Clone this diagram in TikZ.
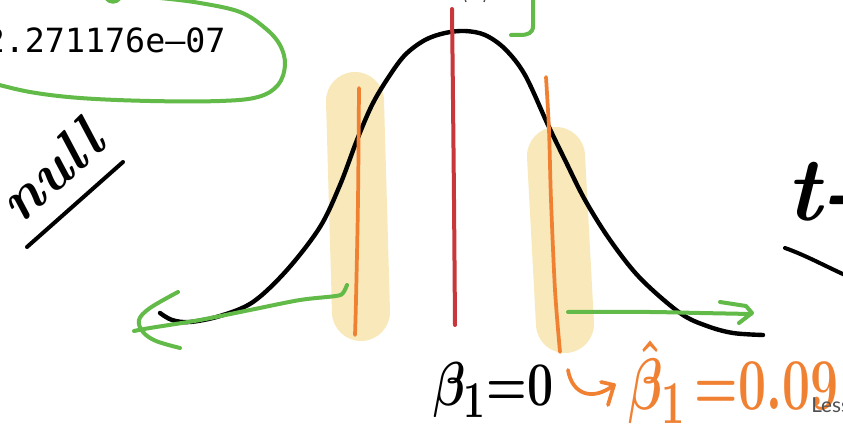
\documentclass[tikz,border=0pt]{standalone}
\usepackage{fontspec}
\usepackage{graphicx}
\newfontfamily\monof{DejaVu Sans Mono}
\newfontfamily\latof{Lato}
\definecolor{pengreen}{RGB}{98,186,72}
\definecolor{penorange}{RGB}{240,128,50}
\definecolor{penred}{RGB}{200,56,58}
\definecolor{hilite}{RGB}{248,232,186}
\definecolor{uigray}{RGB}{80,80,80}
\begin{document}
\begin{tikzpicture}[x=0.75pt,y=-0.75pt,
  ink/.style={line width=3.3pt,line cap=round,line join=round,black},
  greenink/.style={line width=3pt,line cap=round,line join=round,pengreen},
  orangeink/.style={line width=2.8pt,line cap=round,line join=round,penorange},
  redink/.style={line width=3pt,line cap=round,penred},
  marker/.style={line width=43.5pt,line cap=round,hilite},
  hand/.style={inner sep=0pt,font=\bfseries\itshape}]
\clip (0,0) rectangle (843,427);
\fill[white] (0,0) rectangle (843,427);

% highlighter bars
\draw[marker] (355,101) -- (361,312);
\draw[marker] (556,156) -- (565,324);

% bell curve
\draw[ink] plot[smooth,tension=0.55] coordinates {(160,313) (172,320) (190,322) (220,316) (253,302) (287,270) (320,227) (340,185) (357,140) (372,105) (388,78) (405,55) (425,40) (445,33) (465,31) (485,35) (505,49) (525,75) (548,125) (565,160) (585,200) (610,240) (640,278) (680,313) (707,326) (733,333) (763,335)};

% red centre line
\draw[redink] plot[smooth] coordinates {(452,9) (453,100) (454,200) (455,325)};

% orange critical lines
\draw[orangeink] plot[smooth] coordinates {(359,88) (358,200) (356,300) (355,335)};
\draw[orangeink] plot[smooth] coordinates {(546,77) (549,130) (551,200) (555,290) (560,352)};

% green loop round p-value
\draw[greenink] plot[smooth,tension=0.6] coordinates {(-8,83) (30,92) (80,98) (150,101) (220,101) (258,97) (278,85) (285,65) (280,45) (265,28) (240,12) (200,3) (160,-2) (120,-5)};
\draw[greenink] (106,-2) .. controls (110,3) and (116,3) .. (120,-2);
% green hook at top
\draw[greenink] (533,-3) -- (533,26) .. controls (533,33) and (528,35) .. (520,35) -- (511,35);

% tiny grey marks at top
\draw[uigray,line width=1pt] (465,-1) -- (466,2);
\draw[uigray,line width=1pt] (485,-1) -- (484,2);

% left green arrow
\coordinate (la0) at (347,285);
\coordinate (la1) at (134,331);
\draw[greenink] plot[smooth,tension=0.5] coordinates {(la0) (343,293) (336,296) (300,300) (250,310) (200,320) (150,328) (la1)};
\draw[greenink] plot[smooth,tension=0.6] coordinates {(178,292) (150,308) (139,320) (143,332) (156,341) (180,348)};

% right green arrow
\coordinate (ra0) at (568,312);
\coordinate (ra1) at (751,314);
\draw[greenink] plot[smooth,tension=0.4] coordinates {(ra0) (650,312) (700,313) (ra1)};
\draw[greenink] (720,302) -- (746,306) -- (752,313) -- (739,323);

% p-value text
\node[inner sep=0pt,anchor=base west] (pval) at (-15.5,53) {\monof\fontsize{25}{30}\selectfont 2.271176e–07};

% "null" with underline
\node[hand,anchor=base,rotate=42] (null) at (64,186) {\fontsize{45}{54}\selectfont null};
\coordinate (nu0) at (27,247);
\coordinate (nu1) at (123,162);
\draw[ink,line width=3pt] (nu0) -- (nu1);

% "t-" with stroke
\node[hand,anchor=base west] (tlab) at (786,221) {\fontsize{68}{80}\selectfont t-};
\coordinate (tu0) at (785,248);
\coordinate (tu1) at (845,275);
\draw[ink,line width=3pt] (tu0) .. controls (805,255) and (825,266) .. (tu1);

% beta_1 = 0
\node[inner sep=0pt,anchor=base west] (bzero) at (433,406) {\scalebox{1.4}[1.87]{\Huge\boldmath$\beta_{1}{=}\mathbf{0}$}};

% hooked orange arrow
\coordinate (ha0) at (568,370);
\coordinate (ha1) at (614,385);
\draw[orangeink] (ha0) .. controls (572,394) and (592,402) .. (ha1);
\draw[orangeink] (601,382) -- (ha1) -- (608,405);

% beta hat
\node[inner sep=0pt,anchor=base west,text=penorange] (bhat) at (628,410) {\scalebox{1.5}[2.2]{\Huge\boldmath$\hat{\beta}_{1}\,{=}\mathbf{0.09}$}};

% UI text
\node[inner sep=0pt,anchor=base west,text=uigray] (less) at (811,413) {\latof\fontsize{15.5}{18}\selectfont Less};
\end{tikzpicture}
\end{document}
